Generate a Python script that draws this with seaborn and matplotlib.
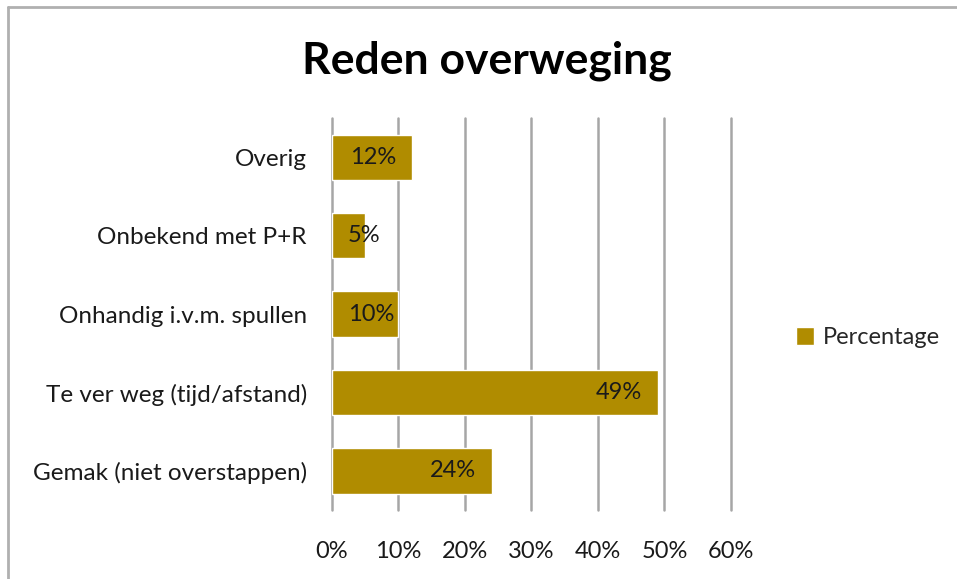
import matplotlib
matplotlib.use("Agg")
import matplotlib.pyplot as plt
import seaborn as sns
import pandas as pd
from matplotlib.lines import Line2D

categories = ["Overig", "Onbekend met P+R", "Onhandig i.v.m. spullen",
              "Te ver weg (tijd/afstand)", "Gemak (niet overstappen)"]
values = [12, 5, 10, 49, 24]
xticks = [0, 10, 20, 30, 40, 50, 60]
series_name = "Percentage"
title = "Reden overweging"

sns.set_theme(style="white")
plt.rcParams['font.family'] = ['Lato', 'DejaVu Sans']

df = pd.DataFrame({"Reden": categories, series_name: values, "serie": series_name})

fig = plt.figure(figsize=(9.57, 5.79), dpi=100)
ax = fig.add_axes([0.3469, 0.119, 0.4169, 0.677])
bar_color = "#B08C00"
sns.barplot(data=df, y="Reden", x=series_name, hue="serie", palette=[bar_color],
            orient="h", width=0.58, ax=ax, saturation=1, legend=True)

fs = 17
ax.set_xlim(0, 60)
ax.set_xticks(xticks)
ax.set_xticklabels([f"{t}%" for t in xticks], fontsize=fs, color="#1a1a1a")
ax.tick_params(axis="x", length=0, pad=22)
ax.tick_params(axis="y", length=0, pad=18, labelsize=17.5, labelcolor="#1a1a1a")
ax.set_xlabel("")
ax.set_ylabel("")
ax.grid(axis="x", color="#A6A6A6", linewidth=1.8)
for gl in ax.get_xgridlines():
    gl.set_clip_on(False)
ax.set_axisbelow(True)
for s in ax.spines.values():
    s.set_visible(False)

# data labels: inside end, clamped at the left
label_w = 6.8
for i, v in enumerate(values):
    if v - 2.4 - label_w < 2.4:
        ax.text(2.4, i, f"{v}%", ha="left", va="center", fontsize=fs, color="#1a1a1a")
    else:
        ax.text(v - 2.4, i, f"{v}%", ha="right", va="center", fontsize=fs, color="#1a1a1a")

leg = ax.legend(loc="center left", bbox_to_anchor=(1.11, 0.44), frameon=False,
                fontsize=fs, handlelength=0.75, handleheight=0.75, handletextpad=0.4)

fig.text(0.509, 0.895, title, ha="center", va="center", fontsize=32, fontweight="bold",
         color="black")

fig.add_artist(Line2D([0.008, 1.0], [0.988, 0.988], color="#B0B0B0", linewidth=2,
                      transform=fig.transFigure))
fig.add_artist(Line2D([0.008, 0.008], [0.0, 0.988], color="#B0B0B0", linewidth=2,
                      transform=fig.transFigure))

fig.savefig("out.png", dpi=100, facecolor="white")
